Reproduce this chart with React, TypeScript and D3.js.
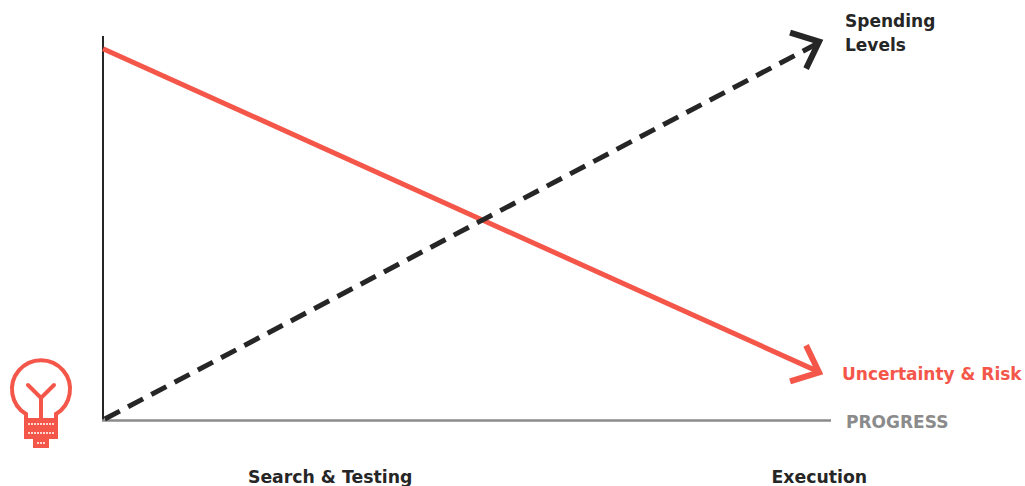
import React from "react";
import * as d3 from "d3";

const WIDTH = 1025;
const HEIGHT = 486;

// Progress positions and the level of each trend at those positions (0–100 scale).
const progressStops = [0, 98.5];
const uncertaintyLevels = [96.7, 12.4];
const spendingLevels = [0, 98.4];

const phaseLabels = ["Search & Testing", "Execution"];
const phaseCentres = [31.2, 98.4];

const RED = "#f4574a";
const INK = "#262626";
const GREY = "#8b8b8b";
const FONT = "'DejaVu Sans', sans-serif";

const x = d3.scaleLinear().domain([0, 100]).range([103, 831]);
const y = d3.scaleLinear().domain([0, 100]).range([420, 36]);

const trend = d3
  .line<number>()
  .x((_, i) => x(progressStops[i]))
  .y((d) => y(d));

// Open chevron at the end of a trend, given as offsets from its tip in pixels.
function chevron(tipX: number, tipY: number, arms: [number, number][]) {
  return `M${tipX + arms[0][0]},${tipY + arms[0][1]}L${tipX},${tipY}L${tipX + arms[1][0]},${tipY + arms[1][1]}`;
}

function Bulb() {
  return (
    <g stroke={RED} fill="none" strokeWidth={4}>
      <path d="M26,420 L26,414 A29,29 0 1 1 56,414 L56,420" />
      <path d="M28,385 L41,398 L54,385 M41,398 L41,419" strokeLinecap="round" />
      <rect x={24} y={418} width={34} height={21} fill={RED} stroke="none" />
      <rect x={33} y={438} width={16} height={10} fill={RED} stroke="none" />
      <path d="M28,424 H54 M28,433 H54 M37,443 H45" stroke="#fbd5d0" strokeWidth={2} strokeDasharray="2 1" />
    </g>
  );
}

export default function App() {
  const tipSpending: [number, number] = [x(progressStops[1]) - 1, y(spendingLevels[1]) - 0.5];
  const tipUncertainty: [number, number] = [x(progressStops[1]) - 1, y(uncertaintyLevels[1])];
  return (
    <svg
      width={WIDTH}
      height={HEIGHT}
      style={{ position: "absolute", left: 0, top: 0, background: "#fff" }}
      fontFamily={FONT}
      fontWeight={700}
    >
      {/* Axes */}
      <line x1={x(0)} x2={x(0)} y1={y(0) + 1} y2={y(100)} stroke={INK} strokeWidth={2} />
      <line x1={x(0) - 1} x2={x(100)} y1={y(0) + 0.5} y2={y(0) + 0.5} stroke={GREY} strokeWidth={2.4} />

      {/* Trends */}
      <path d={trend(uncertaintyLevels) ?? ""} fill="none" stroke={RED} strokeWidth={5} />
      <path
        d={trend(spendingLevels) ?? ""}
        fill="none"
        stroke={INK}
        strokeWidth={5}
        strokeDasharray="17 9.3"
        strokeDashoffset={-2}
      />
      <path
        d={chevron(tipSpending[0], tipSpending[1], [[-29, -9], [-13, 27]])}
        fill="none"
        stroke={INK}
        strokeWidth={6}
      />
      <path
        d={chevron(tipUncertainty[0], tipUncertainty[1], [[-13, -27], [-29, 9]])}
        fill="none"
        stroke={RED}
        strokeWidth={6}
      />

      <Bulb />

      {/* Series labels */}
      <text x={845} y={27} fontSize={17} fill={INK}>Spending</text>
      <text x={845} y={51} fontSize={17} fill={INK}>Levels</text>
      <text x={842} y={380} fontSize={17} fill={RED}>Uncertainty &amp; Risk</text>
      <text x={846} y={428} fontSize={17} fill={GREY}>PROGRESS</text>

      {/* Phase labels */}
      {phaseLabels.map((label, i) => (
        <text key={label} x={x(phaseCentres[i])} y={483} fontSize={17.3} fill={INK} textAnchor="middle">
          {label}
        </text>
      ))}
    </svg>
  );
}
